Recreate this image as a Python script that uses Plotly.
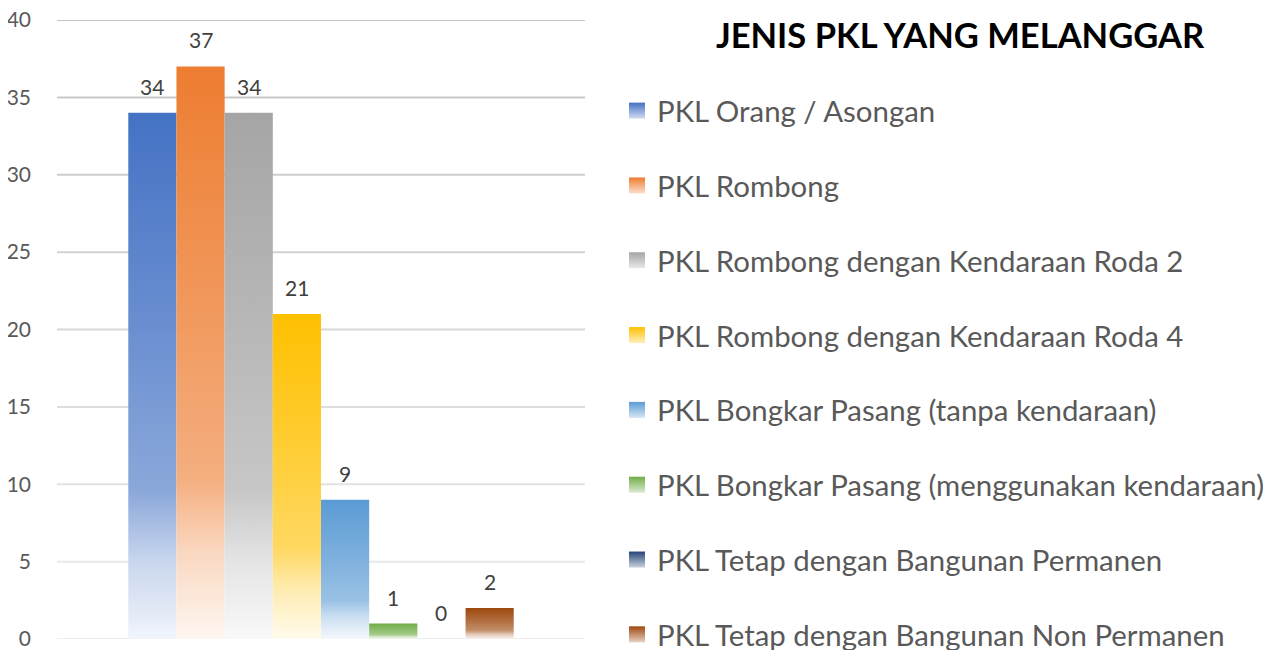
import plotly.graph_objects as go

# Data
categories = [
    "PKL Orang / Asongan",
    "PKL Rombong",
    "PKL Rombong dengan Kendaraan Roda 2",
    "PKL Rombong dengan Kendaraan Roda 4",
    "PKL Bongkar Pasang (tanpa kendaraan)",
    "PKL Bongkar Pasang (menggunakan kendaraan)",
    "PKL Tetap dengan Bangunan Permanen",
    "PKL Tetap dengan Bangunan Non Permanen",
]
values = [34, 37, 34, 21, 9, 1, 0, 2]
colors = ["#4472C4", "#ED7D31", "#A5A5A5", "#FFC000",
          "#5B9BD5", "#70AD47", "#264478", "#9E480E"]
y_ticks = [0, 5, 10, 15, 20, 25, 30, 35, 40]

title_text = "JENIS PKL YANG MELANGGAR"
FONT = "Lato, 'Open Sans', sans-serif"


def mix_white(hex_color, amount):
    # blend a colour with white, amount 0..1
    r, g, b = (int(hex_color[i:i + 2], 16) for i in (1, 3, 5))
    r = round(r + (255 - r) * amount)
    g = round(g + (255 - g) * amount)
    b = round(b + (255 - b) * amount)
    return f"rgb({r},{g},{b})"


group_width = 0.73
bar_w = group_width / len(values)

fig = go.Figure()

for i, (name, val, col) in enumerate(zip(categories, values, colors)):
    xc = -group_width / 2 + (i + 0.5) * bar_w
    x0, x1 = xc - bar_w / 2, xc + bar_w / 2
    # bar drawn as a filled rectangle so it can carry a vertical gradient
    fig.add_trace(go.Scatter(
        x=[x0, x1, x1, x0, x0],
        y=[0, 0, val, val, 0],
        mode="lines",
        line=dict(width=0),
        fill="toself",
        fillgradient=dict(
            type="vertical",
            colorscale=[
                [0.0, mix_white(col, 0.93)],
                [0.15, mix_white(col, 0.70)],
                [0.28, mix_white(col, 0.38)],
                [0.6, mix_white(col, 0.20)],
                [1.0, col],
            ],
        ),
        showlegend=False,
        hoverinfo="skip",
        legendgroup=name,
    ))
    # legend entry
    fig.add_trace(go.Scatter(
        x=[None], y=[None],
        mode="markers",
        name=name,
        legendgroup=name,
        marker=dict(symbol="square", size=16, color=col,
                    gradient=dict(type="vertical", color=mix_white(col, 0.75))),
    ))
    fig.add_annotation(
        x=xc, y=val, text=str(val), showarrow=False,
        yanchor="bottom", yshift=12,
        font=dict(family=FONT, size=21, color="#404040"),
    )

# gridlines, darker at the top and fading toward the bottom
top_grey, bottom_grey = 196, 237
for t in y_ticks:
    g = round(bottom_grey + (top_grey - bottom_grey) * t / max(y_ticks))
    fig.add_shape(type="line", xref="x domain", yref="y",
                  x0=0, x1=1, y0=t, y1=t,
                  line=dict(color=f"rgb({g},{g},{g})", width=2),
                  layer="below")

# the page puts the figure 8px in from the top-left corner
ML, MT, MB = 49, 12, 19
paper_w = 1284 - ML
paper_h = 650 - MT - MB

fig.update_layout(
    width=1284, height=650,
    margin=dict(l=ML, r=0, t=MT, b=MB, autoexpand=False),
    paper_bgcolor="white",
    plot_bgcolor="white",
    font=dict(family=FONT, color="#595959"),
    title=dict(
        text=title_text,
        font=dict(family=FONT, size=34.5, color="black", weight="bold"),
        x=952 / 1284, xref="container", xanchor="center",
        y=1 - 28 / 650, yref="container", yanchor="middle",
    ),
    xaxis=dict(
        domain=[0, 528 / paper_w],
        range=[-0.5, 0.5],
        showgrid=False, zeroline=False, showticklabels=False,
        showline=False, fixedrange=True,
    ),
    yaxis=dict(
        range=[0, 40],
        tickvals=y_ticks,
        showgrid=False, zeroline=False, showline=False,
        ticklabelstandoff=25,
        ticklabeloverflow="allow",
        tickfont=dict(family=FONT, size=21, color="#595959"),
    ),
    legend=dict(
        x=(609 - ML) / paper_w, xanchor="left",
        y=(650 - MB - 77) / paper_h, yanchor="top",
        font=dict(family=FONT, size=29.4, color="#595959"),
        tracegroupgap=33.6,
        maxheight=700,
        bgcolor="rgba(0,0,0,0)",
    ),
    showlegend=True,
)

fig.write_html("out.html")
